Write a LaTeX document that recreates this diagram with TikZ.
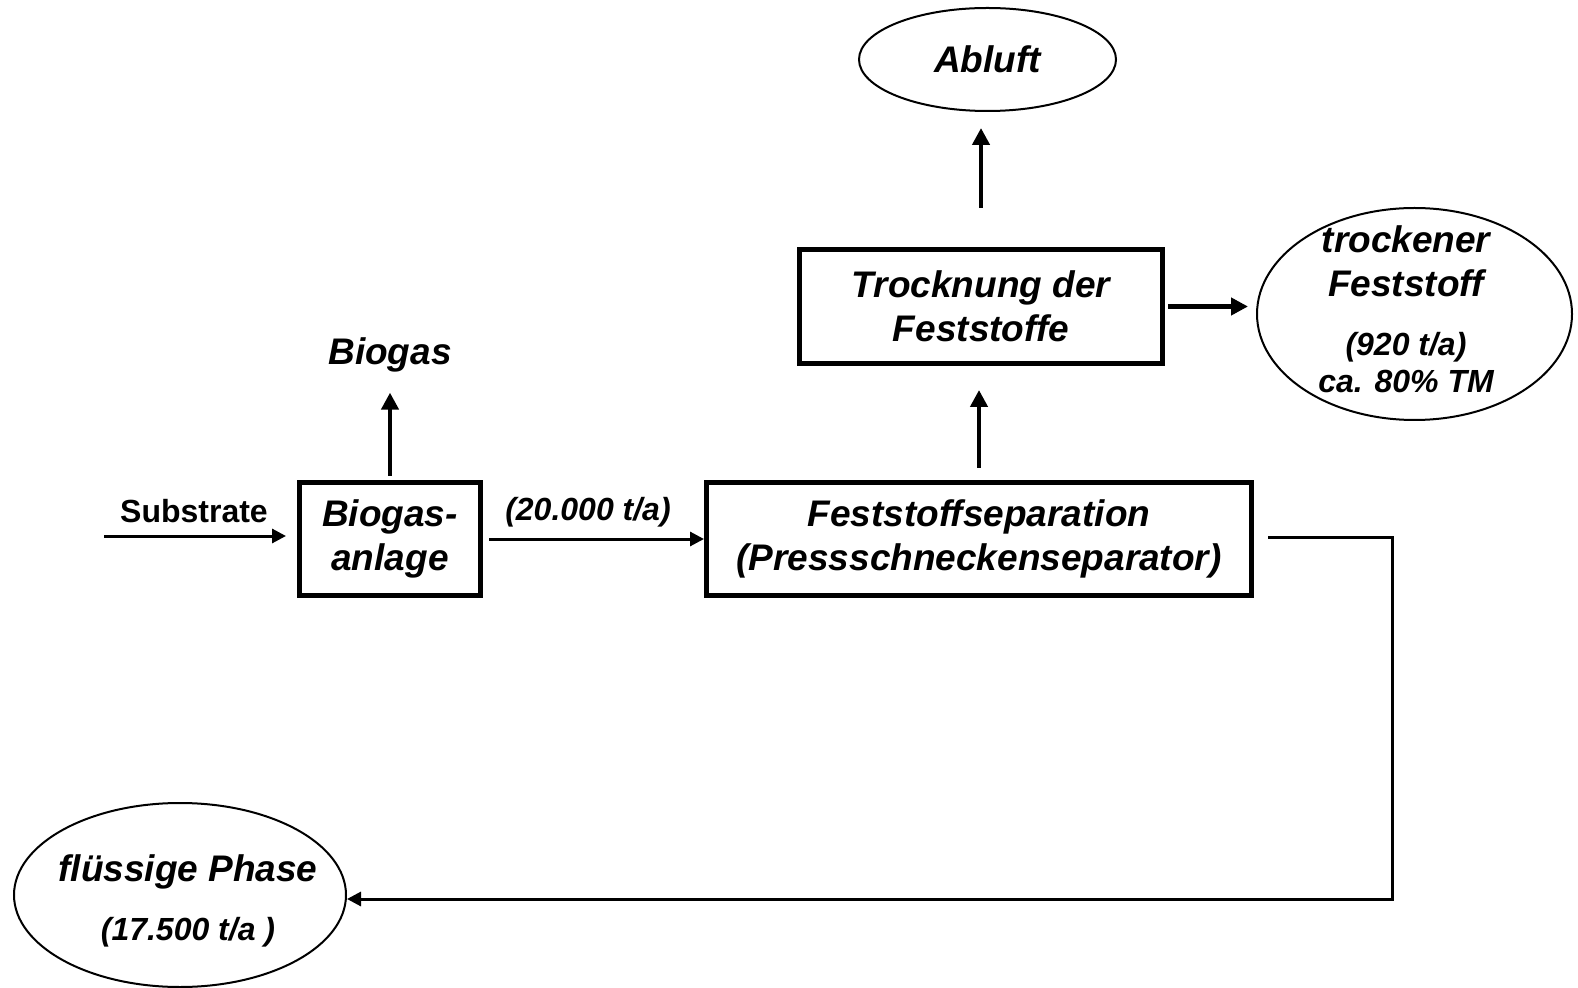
\documentclass[tikz,border=0pt]{standalone}
\usepackage{fontspec}
\setmainfont{Liberation Sans}
\usetikzlibrary{arrows.meta,shapes.geometric}

\begin{document}
\begin{tikzpicture}[x=0.5pt,y=-0.5pt,
  big/.style={font=\fontsize{18.5}{22}\selectfont\bfseries\itshape},
  small/.style={font=\fontsize{16}{18.5}\selectfont\bfseries\itshape},
  plain/.style={font=\fontsize{16}{18}\selectfont\bfseries},
  stepbox/.style={draw,line width=2.5pt,inner sep=0pt,align=center,big},
  sink/.style={draw,ellipse,line width=1pt,inner sep=0pt},
  txt/.style={inner sep=0pt,align=center},
  flowthick/.style={line width=2.25pt,-{Triangle[length=8.5pt,width=8.5pt]}},
  flowthin/.style={line width=1.5pt,-{Triangle[length=7pt,width=7pt]}},
]
\useasboundingbox[fill=white] (0,0) rectangle (1578,988);

% process steps
\node[stepbox,minimum width=90.5pt,minimum height=56.5pt] (bga) at (390,539) {Biogas-\\anlage};
\node[stepbox,minimum width=272.5pt,minimum height=56.5pt] (sep) at (979,539) {Feststoffseparation\\(Pressschneckenseparator)};
\node[stepbox,minimum width=181.5pt,minimum height=57pt] (tr) at (981,306.5) {Trocknung der\\Feststoffe};

% products
\node[sink,minimum width=128.5pt,minimum height=51.5pt,big] (ab) at (987.5,59.5) {Abluft};
\node[sink,minimum width=157.5pt,minimum height=106pt] (tf) at (1414.5,314) {};
\node[txt,big] (tft) at (1406,261.5) {trockener\\Feststoff};
\node[txt,small] (tfm) at (1406,362.5) {(920 t/a)\\ca. 80\% TM};
\node[sink,minimum width=166pt,minimum height=92pt] (flp) at (180,895) {};
\node[txt,big] (flpt) at (188,872) {flüssige Phase};
\node[txt,small] (flpm) at (188,932) {(17.500 t/a )};
\node[txt,big] (bg) at (390,355) {Biogas};

% flow labels
\node[txt,plain] (sub) at (194,511) {Substrate};
\node[txt,small] (menge) at (588,512) {(20.000 t/a)};

\coordinate (in) at (104,536);
\coordinate (fk) at (1392,537);
\coordinate (fb) at (1392,899);

% connectors
\draw[flowthin,shorten >=5.5pt] (in) -- (in -| bga.west);
\draw[flowthin,shorten <=3pt] (bga.east) -- (sep.west);
\draw[flowthick,shorten <=2pt,shorten >=10pt] (bga.north) -- (bga.north |- bg.south);
\draw[flowthick,shorten <=6pt,shorten >=12pt] (sep.north) -- (sep.north |- tr.south);
\draw[flowthick,shorten <=19.5pt,shorten >=8pt] (tr.north) -- (tr.north |- ab.south);
\draw[flowthick,shorten <=1.5pt,shorten >=4pt] (tr.east) -- (tr.east -| tf.west);
\draw[flowthin,shorten <=7pt] (sep.east |- fk) -- (fk) -- (fb) -- (fb -| flp.east);
\end{tikzpicture}
\end{document}
